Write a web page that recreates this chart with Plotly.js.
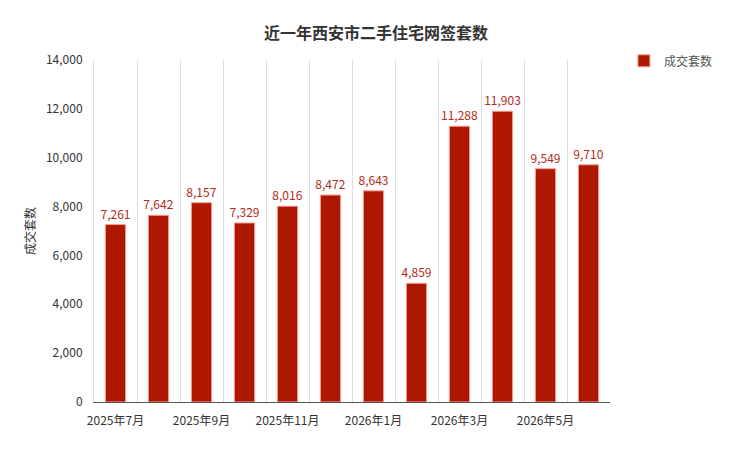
<!DOCTYPE html>
<html>
<head>
<meta charset="utf-8">
<script src="https://cdn.plot.ly/plotly-3.0.1.min.js"></script>
<style>
  html, body { margin: 0; padding: 0; background: #fff; }
  #chart { width: 752px; height: 450px; }
</style>
</head>
<body>
<div id="chart"></div>
<script>
// 月份与成交套数
const months = ['2025年7月', '2025年8月', '2025年9月', '2025年10月', '2025年11月', '2025年12月',
                '2026年1月', '2026年2月', '2026年3月', '2026年4月', '2026年5月', '2026年6月'];
const deals = [7261, 7642, 8157, 7329, 8016, 8472, 8643, 4859, 11288, 11903, 9549, 9710];
// 只每隔一个月显示刻度文字
const tickText = months.map((m, i) => (i % 2 === 0 ? m : ''));

const FONT = '"Microsoft YaHei", "Noto Sans CJK SC", sans-serif';

const trace = {
  type: 'bar',
  name: '成交套数',
  x: months,
  y: deals,
  width: 0.47,
  marker: { color: '#AE1700', line: { color: '#F4A090', width: 1 } },
  text: deals.map(v => v.toLocaleString('en-US')),
  textposition: 'outside',
  constraintext: 'none',
  cliponaxis: false,
  textfont: { family: FONT, size: 12, color: '#B12A1A' },
  hoverinfo: 'skip'
};

const layout = {
  width: 752,
  height: 450,
  margin: { l: 94, r: 142, t: 60, b: 48 },
  paper_bgcolor: '#fff',
  plot_bgcolor: '#fff',
  font: { family: FONT, size: 12, color: '#333' },
  title: {
    text: '<b>近一年西安市二手住宅网签套数</b>',
    font: { family: FONT, size: 16, color: '#333' },
    x: 0.5, xanchor: 'center', y: 0.925, yanchor: 'middle'
  },
  showlegend: true,
  legend: {
    x: 1.027, xanchor: 'left', y: 1.04, yanchor: 'top',
    font: { family: FONT, size: 12, color: '#555' },
    itemwidth: 30
  },
  xaxis: {
    type: 'category',
    tickmode: 'array',
    tickvals: months,
    ticktext: tickText,
    tickson: 'boundaries',
    tickangle: 0,
    ticks: '',
    ticklabelstandoff: 8,
    showgrid: true,
    gridcolor: '#dddddd',
    gridwidth: 1,
    showline: true,
    linecolor: '#555',
    linewidth: 1,
    tickfont: { family: FONT, size: 12, color: '#333' },
    fixedrange: true
  },
  yaxis: {
    range: [0, 14000],
    dtick: 2000,
    tickformat: ',d',
    showgrid: false,
    zeroline: false,
    showline: true,
    linecolor: '#dddddd',
    linewidth: 1,
    ticks: '',
    ticklabelstandoff: 8,
    tickfont: { family: FONT, size: 12, color: '#333' },
    title: { text: '成交套数', font: { family: FONT, size: 12, color: '#333' }, standoff: 7 },
    fixedrange: true
  },
  bargap: 0.5
};

Plotly.newPlot('chart', [trace], layout, { displayModeBar: false, staticPlot: true });
</script>
</body>
</html>
